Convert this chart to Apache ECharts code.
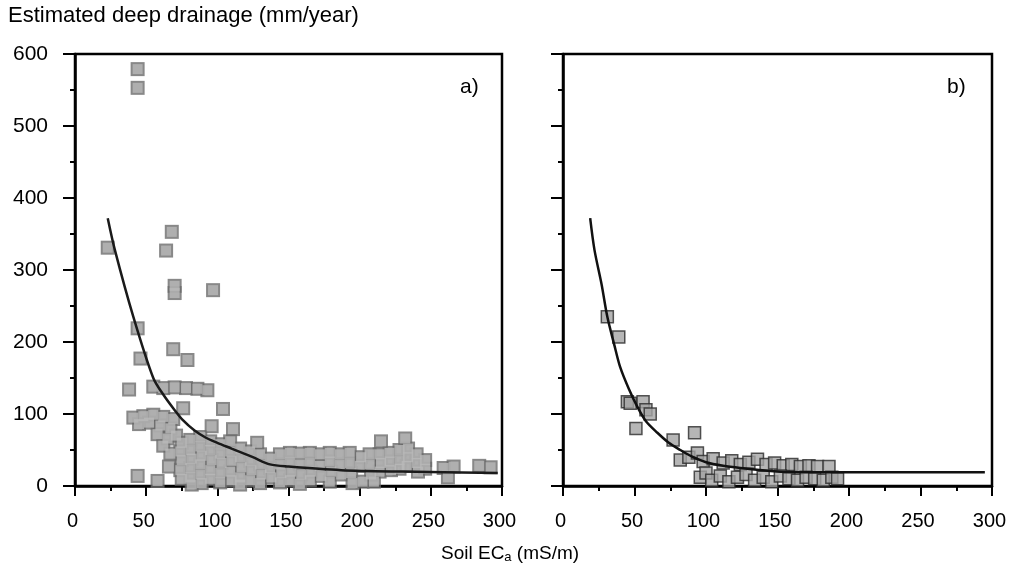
<!DOCTYPE html>
<html>
<head>
<meta charset="utf-8">
<script src="https://cdn.jsdelivr.net/npm/echarts@6/dist/echarts.min.js"></script>
<style>
html,body{margin:0;padding:0;background:#fff;}
#chart{width:1012px;height:572px;}
</style>
</head>
<body>
<div id="chart"></div>
<script>
// ---- data ----
const xTicks = [0, 50, 100, 150, 200, 250, 300];
const yTicks = [0, 100, 200, 300, 400, 500, 600];

// panel a) measured points (Soil ECa, deep drainage)
const pointsA = [
  [23,331],[44,579],[44,553],[68,353],[64,327],[70,278],[70,268],[97,272],
  [44,219],[69,190],[46,177],[79,175],[38,134],[55,138],[62,136],[70,137],
  [78,136],[86,135],[93,133],[76,108],[104,107],[96,83],[111,79],[128,60],
  [44,14],[58,7],[66,27],
  [41,95],[48,97],[55,99],[62,96],[69,93],[45,86],[52,88],[60,84],[67,80],
  [58,72],[65,66],[71,70],[62,56],[67,45],
  [75,60],[74,48],[75,36],[74,22],[75,10],
  [81,64],[81,50],[82,38],[81,25],[81,12],[82,2],
  [88,68],[88,55],[89,42],[88,30],[88,16],[89,4],
  [95,62],[95,50],[96,36],[95,22],[95,10],
  [102,58],[102,45],[103,32],[102,18],[102,5],
  [109,62],[109,48],[110,35],[109,20],[110,8],
  [116,52],[116,40],[117,26],[116,12],[116,2],
  [123,48],[123,35],[124,22],[123,8],
  [130,44],[130,30],[131,16],[130,4],
  [137,38],[137,25],[138,12],
  [144,44],[144,30],[145,18],[144,5],
  [151,46],[151,33],[152,20],[151,8],
  [158,45],[158,30],[159,16],[158,3],
  [165,46],[165,32],[166,20],[165,8],
  [172,44],[172,28],[173,14],
  [179,46],[179,34],[180,20],[179,6],
  [186,44],[186,30],[187,16],
  [193,46],[193,32],[194,18],[195,4],
  [201,40],[200,28],[202,6],[210,6],
  [207,44],[207,30],[208,16],
  [215,62],[214,44],[215,32],[214,20],
  [221,46],[221,34],[222,22],
  [228,50],[228,36],[228,24],
  [232,66],[234,52],[234,40],[233,28],
  [240,44],[240,32],[241,20],
  [246,36],[246,24],
  [259,25],[266,27],[262,12],[284,28],[292,26]
];

// panel a) fitted curve
const curveA = [
  [23,372],[28,328],[41,235],[55,150],[62,127],[69,108],[76,91],[84,77],
  [92,67],[100,60],[110,52],[125,40],[137,30],[150,27],[187,22],[230,20],[297,18]
];

// panel b) points
const pointsB = [
  [31,235],[39,207],[45,117],[47,115],[56,117],[58,106],[61,100],[51,80],
  [77,64],[92,74],
  [82,36],[88,40],[94,46],[98,34],[105,38],[112,32],[118,35],[124,30],
  [130,33],[136,37],[142,30],[148,32],[154,28],[160,30],[166,27],[172,28],
  [178,27],[186,27],
  [96,12],[100,18],[104,8],[110,14],[116,6],[122,12],[128,16],[134,8],
  [140,12],[146,6],[152,14],[158,10],[164,8],[170,12],[176,10],[182,8],
  [188,12],[192,10]
];

// panel b) fitted curve
const curveB = [
  [19,372],[22,328],[27,280],[31,235],[36,195],[40,165],[46,135],[52,110],
  [58,90],[66,74],[74,60],[82,50],[90,41],[100,33],[112,28],[124,25],
  [145,21],[170,19],[295,19]
];

const titleText = 'Estimated deep drainage (mm/year)';
const panelLabels = ['a)', 'b)'];

// ---- chart ----
const FONT = 'Liberation Sans, Arial, sans-serif';

function xAxisFor(gi) {
  return {
    gridIndex: gi, type: 'value', min: xTicks[0], max: xTicks[xTicks.length-1], interval: 50,
    axisLine: {show: true, onZero: false, lineStyle: {color: '#000', width: 2.5}},
    axisTick: {show: true, inside: false, length: 10, lineStyle: {color: '#000', width: 2}},
    minorTick: {show: true, splitNumber: 2, length: 5, lineStyle: {color: '#000', width: 2}},
    splitLine: {show: false},
    axisLabel: {show: true, margin: 25, fontSize: 20, color: '#000', fontFamily: FONT,
      padding: [0, 5, 0, 0]}
  };
}
function yAxisFor(gi, showLabels) {
  return {
    gridIndex: gi, type: 'value', min: yTicks[0], max: yTicks[yTicks.length-1], interval: 100,
    axisLine: {show: true, onZero: false, lineStyle: {color: '#000', width: 2.5}},
    axisTick: {show: true, inside: false, length: 12, lineStyle: {color: '#000', width: 2}},
    minorTick: {show: true, splitNumber: 2, length: 5, lineStyle: {color: '#000', width: 2}},
    splitLine: {show: false},
    axisLabel: {show: showLabels, margin: 27, fontSize: 21, color: '#000', fontFamily: FONT}
  };
}

const chart = echarts.init(document.getElementById('chart'), null, {renderer: 'canvas'});
chart.setOption({
  backgroundColor: '#fff',
  animation: false,
  grid: [
    {left: 75, top: 54, width: 427, height: 432, show: true, borderColor: '#000', borderWidth: 2.5, backgroundColor: 'transparent'},
    {left: 563, top: 54, width: 429, height: 432, show: true, borderColor: '#000', borderWidth: 2.5, backgroundColor: 'transparent'}
  ],
  xAxis: [xAxisFor(0), xAxisFor(1)],
  yAxis: [yAxisFor(0, true), yAxisFor(1, false)],
  graphic: [
    {type: 'text', left: 8, top: 5, style: {text: titleText, fontSize: 22, fontFamily: FONT, fill: '#000'}},
    {type: 'text', left: 460, top: 77, style: {text: panelLabels[0], fontSize: 21, fontFamily: FONT, fill: '#000'}},
    {type: 'text', left: 947, top: 77, style: {text: panelLabels[1], fontSize: 21, fontFamily: FONT, fill: '#000'}},
    {type: 'text', left: 441, top: 544, style: {
      text: 'Soil EC{sub|a} (mS/m)', fontSize: 19, fontFamily: FONT, fill: '#000',
      rich: {sub: {fontSize: 13, fontFamily: FONT, fill: '#000', padding: [8, 0, 0, 0]}}
    }}
  ],
  series: [
    // outline layer for panel a) points
    {type: 'scatter', xAxisIndex: 0, yAxisIndex: 0, data: pointsA, symbol: 'rect', symbolSize: 14,
      itemStyle: {color: '#6a6a6a'}, z: 2, silent: true},
    // fill layer for panel a) points
    {type: 'scatter', xAxisIndex: 0, yAxisIndex: 0, data: pointsA, symbol: 'rect', symbolSize: 10,
      itemStyle: {color: '#b9b9b9'}, z: 3},
    {type: 'line', xAxisIndex: 0, yAxisIndex: 0, data: curveA, smooth: 0.3, showSymbol: false, symbol: 'none',
      lineStyle: {color: '#1a1a1a', width: 2.5}, z: 5},
    {type: 'scatter', xAxisIndex: 1, yAxisIndex: 1, data: pointsB, symbol: 'rect', symbolSize: 12,
      itemStyle: {color: '#a4a4a4', borderColor: '#2a2a2a', borderWidth: 1.5}, z: 2},
    {type: 'line', xAxisIndex: 1, yAxisIndex: 1, data: curveB, smooth: 0.3, showSymbol: false, symbol: 'none',
      lineStyle: {color: '#111', width: 2.5}, z: 5}
  ]
});
</script>
</body>
</html>
